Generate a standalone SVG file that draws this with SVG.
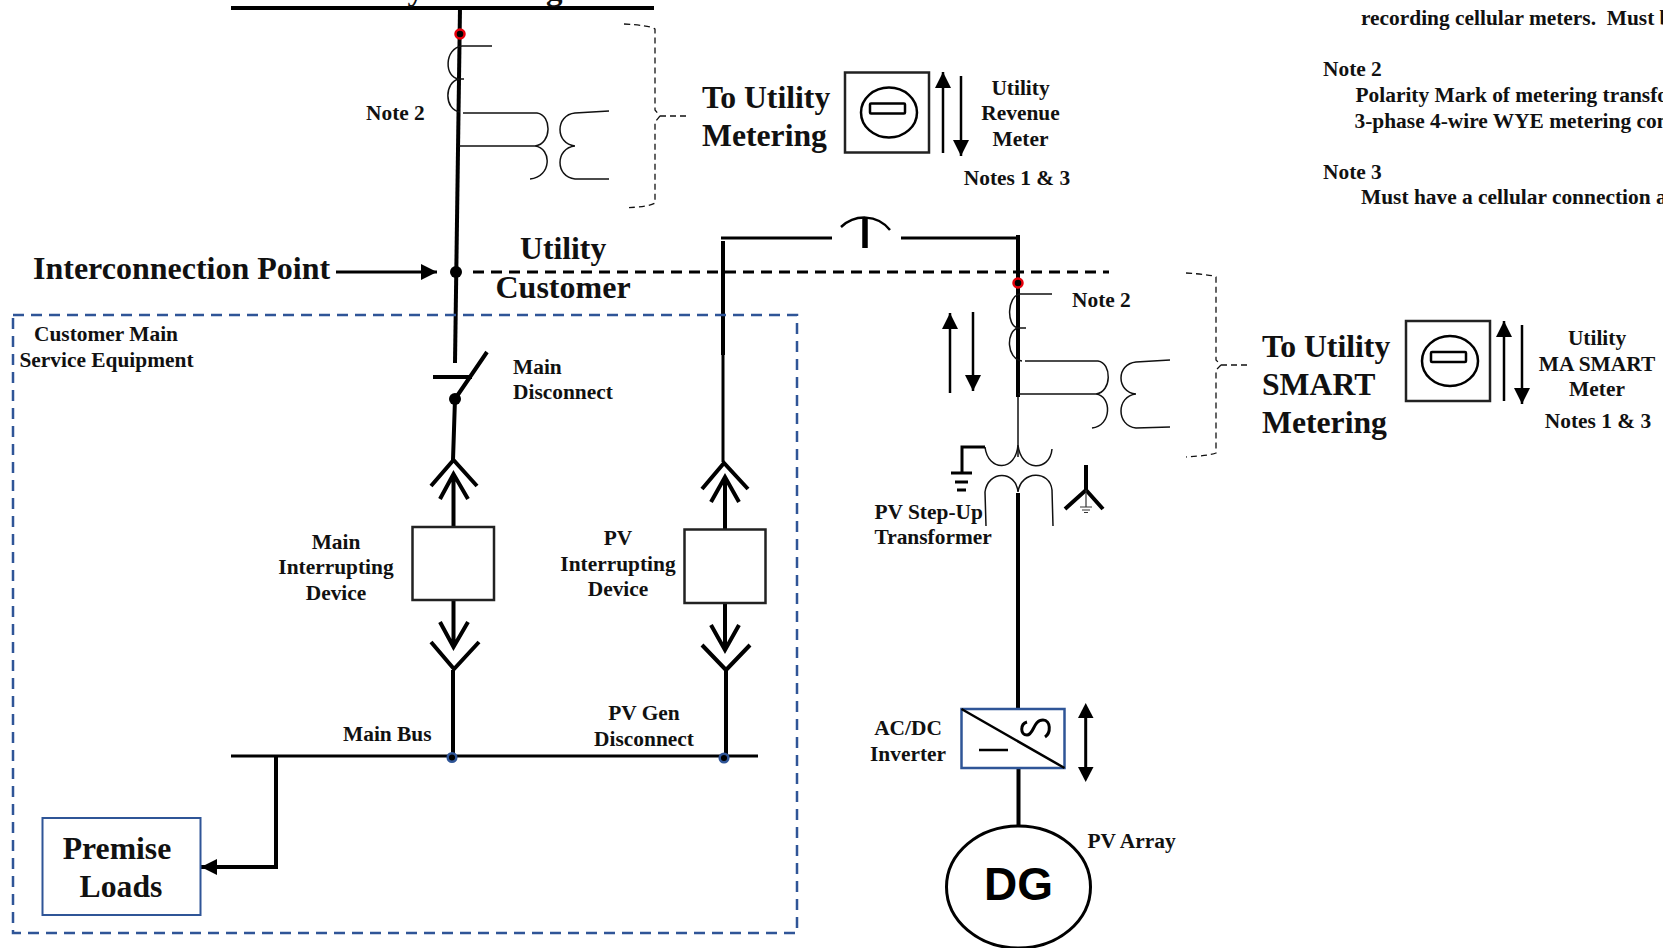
<svg xmlns="http://www.w3.org/2000/svg" width="1663" height="948" viewBox="0 0 1663 948">
<style>
text{font-family:"Liberation Serif","Times New Roman",serif;font-weight:bold;fill:#111}
.s21{font-size:21.4px}.s31{font-size:31.7px}
.m{text-anchor:middle}
.w{fill:none;stroke:#000;stroke-width:4}
.w3{fill:none;stroke:#000;stroke-width:3}
.t{fill:none;stroke:#111;stroke-width:1.5}
.d{fill:none;stroke:#111;stroke-width:1.3;stroke-dasharray:6 4}
.box{fill:#fff;stroke:#222;stroke-width:2.5}
.blue{fill:#fff;stroke:#2f5597;stroke-width:2.5}
.jn{fill:#000;stroke:#2f5597;stroke-width:2.5}
.red{fill:#000;stroke:#e8000b;stroke-width:2.5}
.arr{fill:none;stroke:#000;stroke-width:2.5}
</style>
<defs>
<marker id="head" markerUnits="userSpaceOnUse" markerWidth="16" markerHeight="16" refX="16" refY="8" orient="auto"><path d="M0 0L16 8L0 16Z" fill="#000"/></marker>
<g id="meter"><rect class="box" x="0" y="0" width="84" height="80"/><ellipse cx="44" cy="40" rx="28" ry="25" fill="none" stroke="#000" stroke-width="2.5"/><rect x="25" y="31" width="35" height="10" rx="1" fill="none" stroke="#000" stroke-width="2.5"/></g>
</defs>

<g id="connectors">
<path class="w" d="M231 8H654"/>
<path class="w" d="M460 8L455 363"/>
<path class="w" d="M433 377H472M487 352L455 399L453 460"/>
<path class="w3" d="M336 272H437" marker-end="url(#head)"/>
<path fill="none" stroke="#000" stroke-width="3" stroke-dasharray="11 7" d="M473 272H1109"/>
<path class="w" d="M723 241V355"/>
<path class="w3" d="M723 355V462"/>
<path class="w3" d="M721 238H832M901 238H1020"/>
<path class="w" d="M1018 235V397"/>
<path class="t" d="M1018 397V457"/>
<path class="w" d="M1018 493V709M1018.500 768V826"/>
<path class="w" d="M453.500 527V474M440 499L453.500 474L468 499M431 486L453.500 460L477 486"/>
<path class="w" d="M453.500 600V647M440 622L453.500 647L468 622M431 642L454 669L479 642M453 670V757"/>
<path class="w" d="M725 529V477M711 502L725 477L739 502M702 489L724 463L748 489"/>
<path class="w" d="M725 603V650M711 625L725 650L739 625M702 645L726 670L750 645M726 670V757"/>
<path class="w3" d="M231 756H758"/>
<path class="w" d="M276 757V867H201" marker-end="url(#head)"/>
</g>

<g id="top-label"><text font-size="33" x="305" y="0">Primary Metering</text></g>

<g id="ct-utility">
<path class="t" d="M492 46H462C444 48 444 78 459 79H464M459 79C444 82 444 110 460 112"/>
<path class="t" d="M463 113H537C552 115 552 144 535 146H459M535 146C552 148 552 177 530 179"/>
<path class="t" d="M609 111L575 113C555 115 555 144 575 146M575 146C555 148 555 177 575 179H609"/>
<path class="d" d="M624 24C640 25 650 26 655 29V110L660 116L655 122V203C650 206 640 207 625 208M660 116H687"/>
</g>
<g id="red-dot-1"><circle class="red" cx="460" cy="34" r="4.500"/></g>
<g id="interconnection-dot"><circle cx="456" cy="272" r="6"/></g>
<g id="switch-dot"><circle cx="455" cy="399" r="6"/></g>
<g id="red-dot-2"><circle class="red" cx="1018" cy="283" r="4.500"/></g>

<g id="utility-meter">
<use href="#meter" x="845" y="72.500"/>
<path class="arr" d="M943 153V72" marker-end="url(#head)"/>
<path class="arr" d="M961 76V156" marker-end="url(#head)"/>
<text class="s31" x="702" y="108">To Utility</text>
<text class="s31" x="702" y="146">Metering</text>
<text class="s21 m" x="1020.500" y="95">Utility</text>
<text class="s21 m" x="1020.500" y="120">Revenue</text>
<text class="s21 m" x="1020.500" y="146">Meter</text>
<text class="s21 m" x="1017" y="185">Notes 1 &amp; 3</text>
</g>

<g id="notes">
<text class="s21" x="1361" y="25" xml:space="preserve">recording cellular meters.  Must b</text>
<text class="s21" x="1323" y="76">Note 2</text>
<text class="s21" x="1355.500" y="102">Polarity Mark of metering transfo</text>
<text class="s21" x="1354.500" y="128">3-phase 4-wire WYE metering con</text>
<text class="s21" x="1323" y="179">Note 3</text>
<text class="s21" x="1361" y="204">Must have a cellular connection a</text>
</g>

<g id="labels-boundary">
<text class="s21" x="366" y="120">Note 2</text>
<text font-size="32" x="33" y="279">Interconnection Point</text>
<text class="s31" x="520" y="259">Utility</text>
<text font-size="32" x="495.500" y="298">Customer</text>
</g>

<g id="tee">
<path fill="none" stroke="#000" stroke-width="2.500" d="M841 227C855 214 877 214 890 230"/>
<path fill="none" stroke="#000" stroke-width="5.500" d="M865 218V248"/>
</g>

<g id="customer-main">
<rect x="13" y="315" width="784" height="618" fill="none" stroke="#2f5597" stroke-width="2.500" stroke-dasharray="11 7"/>
<text class="s21 m" x="106" y="341">Customer Main</text>
<text class="s21 m" x="106.500" y="367">Service Equipment</text>
</g>

<g id="main-disconnect"><text class="s21" x="513" y="374">Main</text><text class="s21" x="513" y="399">Disconnect</text></g>

<g id="main-device">
<rect class="box" x="412.500" y="527" width="81.500" height="73"/>
<text class="s21 m" x="336" y="549">Main</text>
<text class="s21 m" x="336" y="574">Interrupting</text>
<text class="s21 m" x="336" y="600">Device</text>
</g>

<g id="pv-device">
<rect class="box" x="684.500" y="529.500" width="81" height="73.500"/>
<text class="s21 m" x="618" y="545">PV</text>
<text class="s21 m" x="618" y="571">Interrupting</text>
<text class="s21 m" x="618" y="596">Device</text>
</g>

<g id="bus-labels">
<text class="s21" x="343" y="741">Main Bus</text>
<text class="s21 m" x="644" y="720">PV Gen</text>
<text class="s21 m" x="644" y="746">Disconnect</text>
</g>
<g id="main-bus-dot"><circle class="jn" cx="452" cy="757.500" r="4.300"/></g>
<g id="pv-bus-dot"><circle class="jn" cx="724" cy="758" r="4.300"/></g>

<g id="premise-loads">
<rect x="42.500" y="818" width="158" height="97" fill="#fff" stroke="#2f5597" stroke-width="2"/>
<text class="s31 m" x="117" y="859">Premise</text>
<text class="s31 m" x="121" y="897">Loads</text>
</g>

<g id="ct-smart">
<path class="t" d="M1052 294H1020C1007 296 1006 326 1018 328H1026M1018 328C1006 331 1006 359 1022 361"/>
<path class="t" d="M1025 361H1098C1112 363 1112 392 1096 394H1018M1096 394C1112 396 1112 426 1092 428"/>
<path class="t" d="M1170 360L1136 362C1116 364 1116 392 1136 394M1136 394C1116 396 1116 426 1136 428L1170 427"/>
<path class="d" d="M1186 273C1200 274 1212 275 1216 277V360L1221 365L1216 370V453C1212 455 1200 456 1186 457M1221 365H1248"/>
<text class="s21" x="1072" y="307">Note 2</text>
</g>
<g id="smart-arrows">
<path class="arr" d="M950 393V313" marker-end="url(#head)"/>
<path class="arr" d="M973 312V391" marker-end="url(#head)"/>
</g>

<g id="smart-meter">
<use href="#meter" x="1406" y="321"/>
<path class="arr" d="M1504 401V321" marker-end="url(#head)"/>
<path class="arr" d="M1522 325V404" marker-end="url(#head)"/>
<text class="s31" x="1262" y="357">To Utility</text>
<text class="s31" x="1262" y="395">SMART</text>
<text class="s31" x="1262" y="433">Metering</text>
<text class="s21 m" x="1597" y="345">Utility</text>
<text class="s21 m" x="1597" y="371">MA SMART</text>
<text class="s21 m" x="1597" y="396">Meter</text>
<text class="s21 m" x="1598" y="428">Notes 1 &amp; 3</text>
</g>

<g id="step-up-transformer">
<path class="t" d="M985 447C988 472 1016 472 1018 445C1021 472 1050 472 1052 449"/>
<path class="t" d="M986 526L985 492C988 470 1016 470 1018 492C1021 470 1050 470 1052 490L1053 526"/>
<path class="w3" d="M985 447H962V473"/>
<path class="w3" d="M951 473H972M955 482H968M957 490H966"/>
<path class="w" d="M1086 465V490M1065 509L1086 490L1103 509"/>
<path fill="none" stroke="#333" stroke-width="1.200" d="M1086 490V507M1080 507H1092M1082 510H1090M1084 512.500H1088"/>
<text class="s21" x="874.500" y="519">PV Step-Up</text>
<text class="s21" x="874.500" y="544">Transformer</text>
</g>

<g id="inverter">
<rect class="blue" x="961.500" y="709" width="103" height="59"/>
<path fill="none" stroke="#000" stroke-width="2.500" d="M961.500 709L1064.500 768M979 750H1008"/>
<path fill="none" stroke="#000" stroke-width="3" d="M1027 722C1020 724 1020 735 1027 735C1034 735 1033 720 1043 720C1051 720 1051 733 1045 737"/>
<path d="M1085.700 703L1078 718H1093.500Z"/>
<path class="w3" d="M1085.700 718V767"/>
<path d="M1085.700 782L1078 767H1093.500Z"/>
<text class="s21 m" x="908" y="735">AC/DC</text>
<text class="s21 m" x="908" y="761">Inverter</text>
</g>

<g id="pv-array">
<ellipse cx="1018.500" cy="887" rx="72" ry="61" fill="#fff" stroke="#000" stroke-width="3"/>
<text x="1018.500" y="900" font-size="46" text-anchor="middle" style="font-family:'Liberation Sans',Arial,sans-serif;fill:#000">DG</text>
<text class="s21" x="1087.500" y="848">PV Array</text>
</g>
</svg>
